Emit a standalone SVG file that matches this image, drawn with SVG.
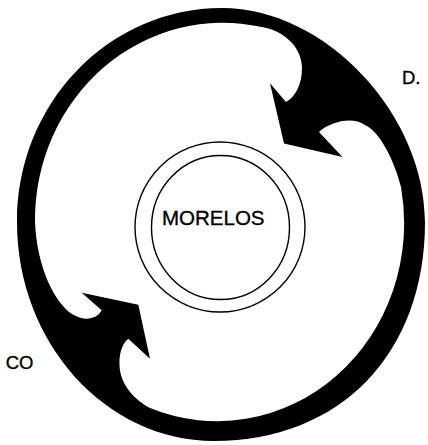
<svg xmlns="http://www.w3.org/2000/svg" width="428" height="445" viewBox="0 0 428 445">
  <style>
    .ring { fill: #000; fill-rule: evenodd; stroke: none; }
    .circ { fill: none; stroke: #000; stroke-width: 1.4; }
    .lbl { font-family: "Liberation Sans", Arial, sans-serif; fill: #000; stroke: #000; stroke-width: 0.35; }
  </style>
  <rect width="428" height="445" fill="#fff"/>
  <g id="connectors">
    <path class="ring" d="M 17,222 C 17,103 109,8 222,8 C 326,8 425,115 425,222 C 425,353 341,441 214,441 C 106,441 17,343 17,222 Z
      M 35,222 A 188,197 0 0 1 262,27 C 285,31 302,48 302,68 C 302,85 295,97 286,102 L 270,83.3 L 284,143.5 L 342.5,157 L 319,132 C 330,122 352,116 365,125 C 380,132 394,160 401,187 A 187,198 0 0 1 150,408 C 135,400 120,385 119.5,365 C 119,352 123,343 128.3,338.7 L 150,358.7 L 138.3,304.7 L 81.7,292.7 L 101.7,310.3 C 97,319 85,322 72,314 C 55,303 37,268 35,222 Z"/>
  </g>
  <g id="morelos">
    <ellipse class="circ" cx="220" cy="227" rx="85" ry="85"/>
    <ellipse class="circ" cx="220.5" cy="227.5" rx="69" ry="72"/>
    <text class="lbl" x="162" y="225" font-size="20.5">MORELOS</text>
  </g>
  <g id="label-df">
    <text class="lbl" x="402" y="83.5" font-size="18.5">D.</text>
  </g>
  <g id="label-co">
    <text class="lbl" x="33.5" y="368.5" font-size="18.5" text-anchor="end">CO</text>
  </g>
</svg>
